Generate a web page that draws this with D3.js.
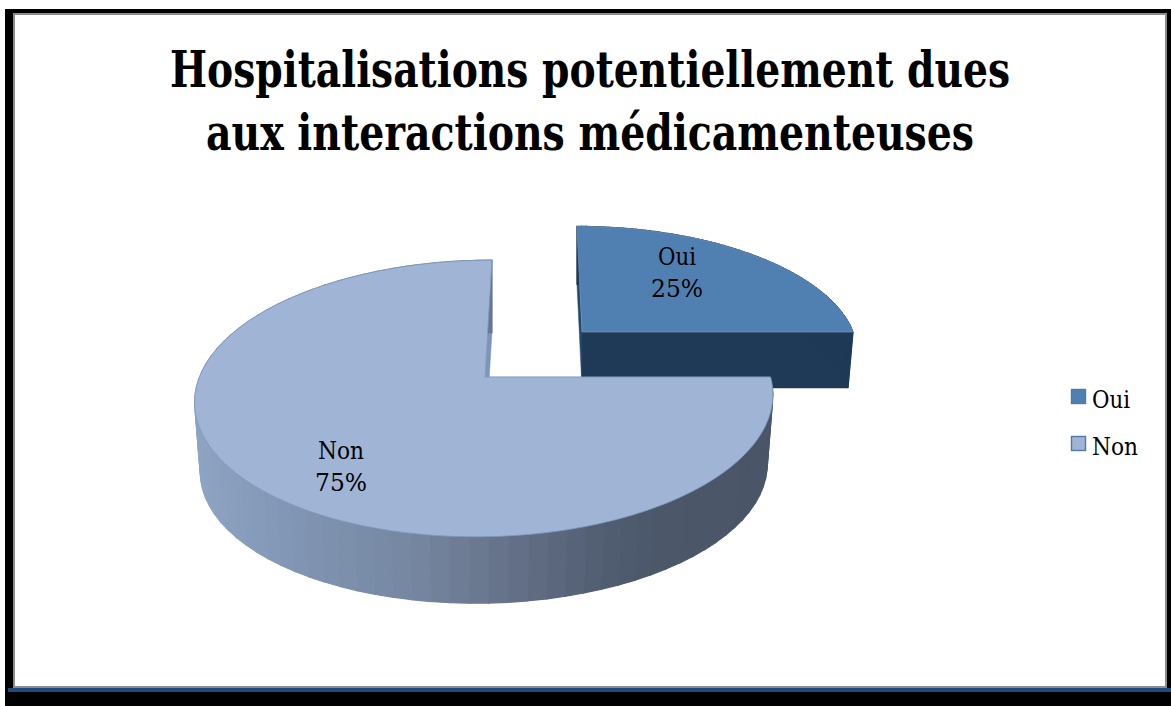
<!DOCTYPE html>
<html><head><meta charset="utf-8">
<script src="https://cdn.jsdelivr.net/npm/d3@7"></script>
<style>html,body{margin:0;padding:0;background:#fff;overflow:hidden}svg{display:block}</style>
</head><body><svg id="c" width="1171" height="706"></svg>
<script>
const titleLines = ["Hospitalisations potentiellement dues", "aux interactions médicamenteuses"];
const categories = ["Oui", "Non"];
const values = [25, 75];
const topColors = ["#5080b2", "#a0b5d6"];

const svg = d3.select("#c");
const FONT = "'DejaVu Serif Condensed', 'DejaVu Serif', serif";

// frame
svg.append("rect").attr("x",5).attr("y",9).attr("width",1166).attr("height",697).attr("fill","#000");
svg.append("rect").attr("x",13).attr("y",13).attr("width",1154).attr("height",675).attr("fill","#8c8c8c");
svg.append("rect").attr("x",15).attr("y",15).attr("width",1150).attr("height",671).attr("fill","#fff");
svg.append("rect").attr("x",8).attr("y",688).attr("width",1163).attr("height",4).attr("fill","#1f4a7d");

// title
const titleX = 590, titleY = [87, 150], titleW = [840, 768];
svg.selectAll("text.t").data(titleLines).join("text").attr("class","t")
  .attr("x",titleX).attr("y",(d,i)=>titleY[i]).attr("text-anchor","middle")
  .attr("textLength",(d,i)=>titleW[i]).attr("lengthAdjust","spacingAndGlyphs")
  .attr("font-family",FONT).attr("font-weight","bold").attr("font-size",50).attr("fill","#000").text(d=>d);

// pie with perspective projection of the unit circle
const pie = d3.pie().sort(null).value(d=>d).startAngle(0).endAngle(2*Math.PI);
const arcs = pie(values);
const k = 0.155;
const proj = (g,a,r=1) => {
  const u = r*Math.sin(a), v = r*Math.cos(a), w = 1 + k*v;
  return [g.x + (g.R*u + g.s*v)/w, g.y - g.H*v/w];
};
const geom = [
  {top:{x:582,y:332,R:271,H:122,s:-5.8}, bot:{x:582,y:388,R:266,H:120,s:-5.8}},
  {top:{x:485,y:377,R:285.5,H:135,s:8}, bot:{x:485,y:447,R:280,H:132,s:8}}
];
const samples = (a0,a1,n) => d3.range(n+1).map(i => a0 + (a1-a0)*i/n);
const line = d3.line();
const wallColor = d3.scaleLinear()
  .domain([200,300,420,500,600,650,770])
  .range(["#8ea3c2","#8095b3","#75859f","#66738b","#525e72","#4c586a","#4a5668"]);

function slab(i, wallFill, innerFills) {
  const d = arcs[i], g = geom[i];
  const G = svg.append("g");
  [d.endAngle, d.startAngle].forEach((a,j) => {
    G.append("path").attr("fill",innerFills[j]).attr("stroke",innerFills[j]).attr("stroke-width",.5)
     .attr("d", line([proj(g.top,a),proj(g.top,a,0),proj(g.bot,a,0),proj(g.bot,a)])+"Z");
  });
  d3.pairs(samples(d.startAngle, d.endAngle, 80)).forEach(([a,b]) => {
    const p = [proj(g.top,a),proj(g.top,b),proj(g.bot,b),proj(g.bot,a)];
    const col = wallFill || wallColor((p[0][0]+p[1][0])/2);
    G.append("path").attr("fill",col).attr("stroke",col).attr("stroke-width",1.2).attr("d",line(p)+"Z");
  });
  const face = [proj(g.top,0,0), ...samples(d.startAngle, d.endAngle, 240).map(a=>proj(g.top,a))];
  G.append("path").attr("fill",topColors[i]).attr("stroke",i? "#7f98bd":"#6f8fb5").attr("stroke-width",.8)
   .attr("stroke-linejoin","round").attr("d",line(face)+"Z");
}
slab(0, "#1f3a56", ["#1f3a56", "#24476b"]);
slab(1, null, ["#7c95bb", "#7c95bb"]);

// slice labels
const labelPos = [{x:677,y:[265,297]},{x:341,y:[459,491]}];
const labelW = [[38,52],[46,52]];
const labelG = svg.append("g").attr("font-family",FONT).attr("font-size",24).attr("fill","#000").attr("text-anchor","middle");
categories.forEach((c,i) => {
  [c, values[i]+"%"].forEach((s,j) => {
    labelG.append("text").attr("x",labelPos[i].x).attr("y",labelPos[i].y[j])
      .attr("textLength",labelW[i][j]).attr("lengthAdjust","spacingAndGlyphs").text(s);
  });
});

// legend
const legendY = d3.scalePoint().domain(categories).range([389,436]);
const legendW = [38,46];
const lg = svg.append("g");
categories.forEach((c,i) => {
  lg.append("rect").attr("x",1071.5).attr("y",legendY(c)+.5).attr("width",14).attr("height",14)
    .attr("fill",topColors[i]).attr("stroke","#4f7aa8").attr("stroke-width",1.4);
  lg.append("text").attr("x",1092).attr("y",legendY(c)+19).attr("font-family",FONT).attr("font-size",24)
    .attr("textLength",legendW[i]).attr("lengthAdjust","spacingAndGlyphs").attr("fill","#000").text(c);
});
</script></body></html>
